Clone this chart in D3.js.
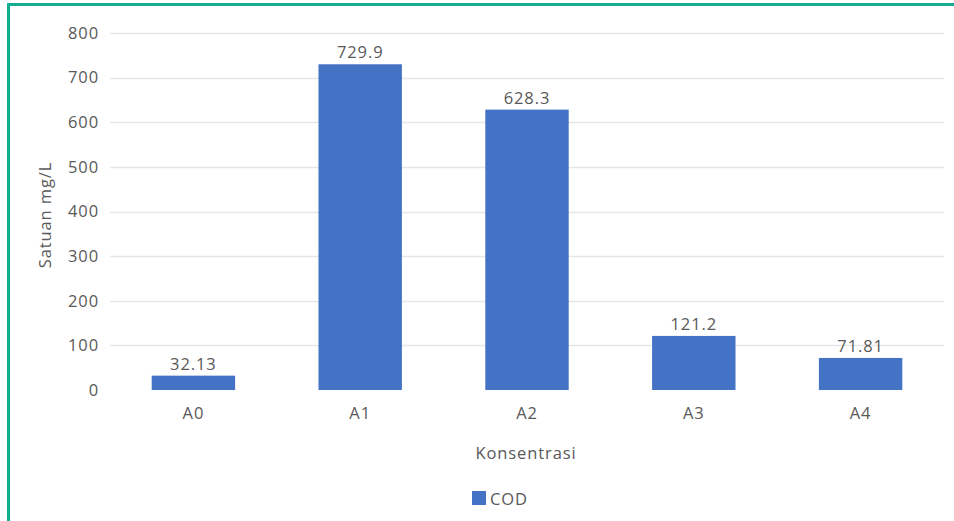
<!DOCTYPE html>
<html>
<head>
<meta charset="utf-8">
<script src="https://cdn.jsdelivr.net/npm/d3@7"></script>
<style>
  html, body { margin: 0; padding: 0; background: #fff; }
  svg { display: block; }
  text { font-family: "Open Sans", "DejaVu Sans", sans-serif; fill: #595959; letter-spacing: 0.9px; }
</style>
</head>
<body>
<svg id="chart" width="954" height="521"></svg>
<script>
// COD concentration per treatment
const categories = ["A0", "A1", "A2", "A3", "A4"];
const codValues = [32.13, 729.9, 628.3, 121.2, 71.81];
const valueLabels = ["32.13", "729.9", "628.3", "121.2", "71.81"];
const yTicks = [0, 100, 200, 300, 400, 500, 600, 700, 800];
const seriesName = "COD";

const FS = "16.5px";
const svg = d3.select("#chart");
const W = 954, H = 521;
const plotLeft = 110, plotRight = 944, plotTop = 33, plotBottom = 390;

// frame
svg.append("line").attr("x1", 7).attr("x2", W).attr("y1", 4.5).attr("y2", 4.5)
  .attr("stroke", "#14ad91").attr("stroke-width", 3);
svg.append("line").attr("x1", 8.5).attr("x2", 8.5).attr("y1", 3).attr("y2", H)
  .attr("stroke", "#14ad91").attr("stroke-width", 3);

const x = d3.scaleBand().domain(categories).range([plotLeft, plotRight]).paddingInner(0.5).paddingOuter(0.25);
const y = d3.scaleLinear().domain([0, 800]).range([plotBottom, plotTop]);

// gridlines
svg.append("g").selectAll("line").data(yTicks.filter(d => d > 0)).join("line")
  .attr("x1", plotLeft).attr("x2", plotRight)
  .attr("y1", d => Math.round(y(d)) + 0.5).attr("y2", d => Math.round(y(d)) + 0.5)
  .attr("stroke", "#e6e6e6").attr("stroke-width", 1.5);

// y axis
const yAxis = svg.append("g").attr("transform", "translate(" + plotLeft + ",0)")
  .call(d3.axisLeft(y).tickValues(yTicks).tickSize(0).tickPadding(11));
yAxis.select(".domain").remove();
yAxis.selectAll("text").style("font-size", FS).attr("fill", "#595959");

// x axis
const xAxis = svg.append("g").attr("transform", "translate(0," + plotBottom + ")")
  .call(d3.axisBottom(x).tickSize(0).tickPadding(17));
xAxis.select(".domain").remove();
xAxis.selectAll("text").style("font-size", FS).attr("fill", "#595959");

// bars
svg.append("g").selectAll("rect").data(codValues).join("rect")
  .attr("x", (d, i) => x(categories[i]))
  .attr("y", d => y(d))
  .attr("width", x.bandwidth())
  .attr("height", d => y(0) - y(d))
  .attr("fill", "#4472c4");

// value labels
svg.append("g").selectAll("text").data(codValues).join("text")
  .attr("x", (d, i) => x(categories[i]) + x.bandwidth() / 2)
  .attr("y", d => y(d) - 6)
  .attr("text-anchor", "middle")
  .style("font-size", FS)
  .attr("fill", "#404040")
  .text((d, i) => valueLabels[i]);

// axis titles
svg.append("text")
  .attr("transform", "translate(51,215) rotate(-90)")
  .attr("text-anchor", "middle")
  .style("font-size", FS)
  .text("Satuan mg/L");

svg.append("text")
  .attr("x", 526)
  .attr("y", 459)
  .attr("text-anchor", "middle")
  .style("font-size", FS)
  .text("Konsentrasi");

// legend
const legend = svg.append("g").attr("transform", "translate(472,491)");
legend.append("rect").attr("width", 14).attr("height", 14).attr("fill", "#4472c4");
legend.append("text").attr("x", 18).attr("y", 14)
  .style("font-size", FS).text(seriesName);
</script>
</body>
</html>
